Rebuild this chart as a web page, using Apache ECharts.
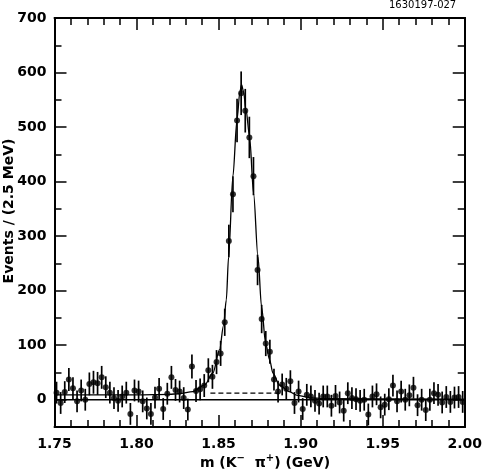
<!DOCTYPE html>
<html><head><meta charset="utf-8">
<script src="https://cdn.jsdelivr.net/npm/echarts@6/dist/echarts.min.js"></script>
<style>html,body{margin:0;padding:0;background:#fff}#c{width:485px;height:474px}</style>
</head><body><div id="c"></div>
<script>
// Histogram binning (2.5 MeV bins from 1.75 GeV)
const binStart = 1.75;
const binWidth = 0.0025;
// Events per bin
const counts = [13,-6,14,37,21,-3,17,0,29,32, 30,41,23,13,3,-2,6,13,-26,17,
  15,-3,-16,-26,4,20,-17,11,41,18, 15,3,-18,61,16,19,26,54,42,69,
  85,142,291,377,512,562,530,481,410,238, 148,103,88,37,15,28,20,34,-6,15,
  -17,9,6,-2,-7,6,6,-11,7,-5, -20,12,3,1,-2,0,-27,6,10,-14,
  -9,1,26,-3,15,0,8,22,-10,0, -19,0,12,9,-5,5,-4,4,5,-4];
// Error bar half-lengths
const errors = [20,20,20,21,20,20,20,20,21,21, 21,21,20,20,20,20,20,20,20,20,
  20,20,20,20,20,20,20,20,21,20, 20,20,20,22,20,20,21,22,22,22,
  23,25,30,33,40,40,40,38,35,28, 26,23,22,20,20,20,20,20,20,20,
  20,20,20,20,20,20,20,20,20,20, 20,20,20,20,20,20,20,20,20,20,
  20,20,20,20,20,20,20,20,20,20, 20,20,20,20,20,20,20,20,20,20];
// Fit curve
const fitX = [1.750,1.800,1.820,1.826,1.8343,1.8415,1.8465,1.8506,1.8530,1.8547,1.8561,1.8587,1.8612,1.8630,1.8640,1.8652,1.8667,1.8689,1.8713,1.8740,1.8762,1.8787,1.8811,1.8831,1.887,1.893,1.898,1.905,1.915,2.000];
const fitY = [9,9,10,11,15,27,49,92,136,183,262,409,513,565,578,565,532,482,379,262,170,103,73,49,27,15,8,4,2,1];
// Background level under the peak (dashed)
const bkgX = [1.845,1.887];
const bkgY = [12,12];
const zeroX = [1.75,2.00];
const zeroY = [0,0];
// Axis labels
const yTickValues = [0,100,200,300,400,500,600,700];
const yMinorValues = [50,150,250,350,450,550,650];

const pts = counts.map((v,i)=>[binStart + binWidth*(i+0.5), v, errors[i]]);
const font = '"DejaVu Sans", Verdana, sans-serif';

const chart = echarts.init(document.getElementById('c'));
const xBase = {
  type:'value', min:1.75, max:2.00, interval:0.05,
  axisLine:{show:true,onZero:false,lineStyle:{color:'#000',width:2}},
  axisTick:{show:true,inside:true,length:12,lineStyle:{color:'#000',width:1.5}},
  minorTick:{show:true,splitNumber:5,length:7,lineStyle:{color:'#000',width:1.5}},
  splitLine:{show:false}, minorSplitLine:{show:false}
};
const yBase = {
  type:'value', min:-50, max:700, interval:50,
  axisLine:{show:true,onZero:false,lineStyle:{color:'#000',width:2}},
  splitLine:{show:false}
};
chart.setOption({
  animation:false,
  grid:{left:54.5,right:19.5,top:18,bottom:47},
  xAxis:[
    Object.assign({}, xBase, {position:'bottom',
      axisLabel:{color:'#000',fontFamily:font,fontWeight:'bold',fontSize:14,margin:10,
        formatter:v=>v.toFixed(2)}}),
    Object.assign({}, xBase, {position:'top', axisLabel:{show:false}})
  ],
  yAxis:[
    Object.assign({}, yBase, {position:'left',
      axisTick:{show:true,inside:true,length:12,customValues:yTickValues,lineStyle:{color:'#000',width:1.5}},
      axisLabel:{customValues:yTickValues,color:'#000',fontFamily:font,fontWeight:'bold',fontSize:14,margin:8}}),
    Object.assign({}, yBase, {position:'left',
      axisTick:{show:true,inside:true,length:7,customValues:yMinorValues,lineStyle:{color:'#000',width:1.5}},
      axisLabel:{show:false}}),
    Object.assign({}, yBase, {position:'right',
      axisTick:{show:true,inside:true,length:12,customValues:yTickValues,lineStyle:{color:'#000',width:1.5}},
      axisLabel:{show:false}}),
    Object.assign({}, yBase, {position:'right',
      axisTick:{show:true,inside:true,length:7,customValues:yMinorValues,lineStyle:{color:'#000',width:1.5}},
      axisLabel:{show:false}})
  ],
  graphic:[
    {type:'text', left:389, top:0, style:{text:'1630197-027', fill:'#000', font:'10px '+font}},
    {type:'text', x:9, y:211, rotation:Math.PI/2, style:{text:'Events / (2.5 MeV)', fill:'#000',
      font:'bold 14px '+font, align:'center', verticalAlign:'middle'}},
    {type:'text', x:265, y:463, style:{
      text:'{b|m (K}{sup|−}{b|  π}{sup|+}{b|) (GeV)}', fill:'#000', align:'center', verticalAlign:'middle',
      rich:{
        b:{fontSize:14, fontWeight:'bold', fontFamily:font, fill:'#000', lineHeight:20, verticalAlign:'middle'},
        sup:{fontSize:10, fontWeight:'bold', fontFamily:font, fill:'#000', lineHeight:20, verticalAlign:'top'}
      }}}
  ],
  series:[
    {type:'line', data:zeroX.map((x,i)=>[x,zeroY[i]]), symbol:'none', lineStyle:{color:'#000',width:1.5}, z:1},
    {type:'line', data:bkgX.map((x,i)=>[x,bkgY[i]]), symbol:'none', lineStyle:{color:'#000',width:1.2,type:[5,3]}, z:1},
    {type:'line', data:fitX.map((x,i)=>[x,fitY[i]]), symbol:'none', smooth:0.3, smoothMonotone:'x', lineStyle:{color:'#000',width:1.3}, z:2},
    {type:'custom', data:pts, z:3,
      renderItem:function(params, api){
        const x = api.value(0), y = api.value(1), e = api.value(2);
        const p1 = api.coord([x, y-e]), p2 = api.coord([x, y+e]);
        return {type:'line', shape:{x1:p1[0],y1:p1[1],x2:p2[0],y2:p2[1]}, style:{stroke:'#000',lineWidth:1.7}};
      }},
    {type:'scatter', data:pts.map(p=>[p[0],p[1]]), symbol:'circle', symbolSize:6, itemStyle:{color:'#000'}, z:4}
  ]
});
</script></body></html>
